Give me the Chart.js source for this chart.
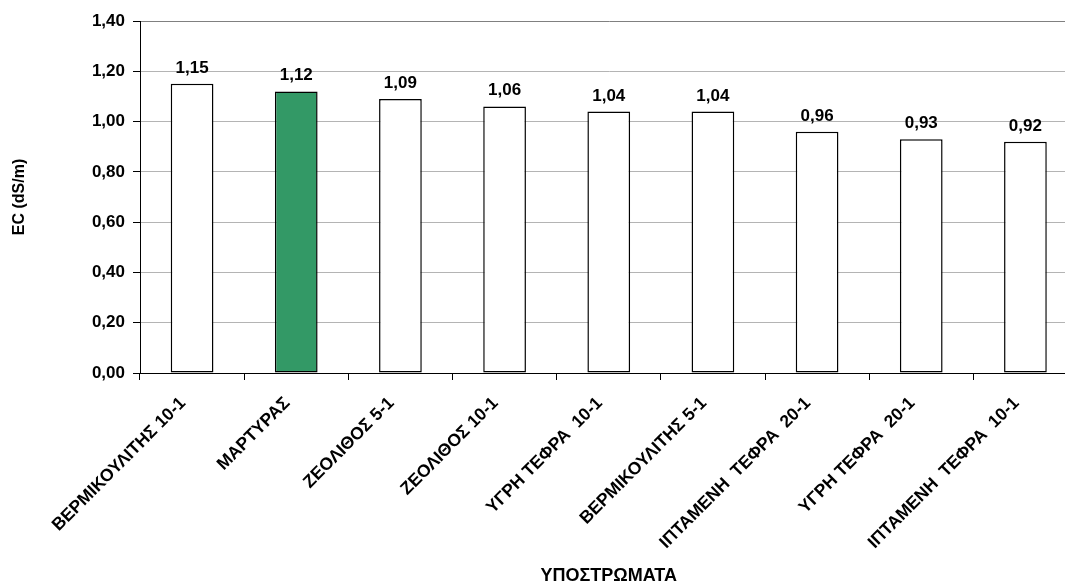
<!DOCTYPE html>
<html>
<head>
<meta charset="utf-8">
<script src="https://cdn.jsdelivr.net/npm/chart.js@4"></script>
<style>
  html, body { margin: 0; padding: 0; background: #fff; overflow: hidden; }
  #wrap { width: 1080px; height: 582px; }
</style>
</head>
<body>
<div id="wrap"><canvas id="myChart"></canvas></div>
<script>
// Substrates and their EC values
const substrates = [
    'ΒΕΡΜΙΚΟΥΛΙΤΗΣ 10-1',
    'ΜΑΡΤΥΡΑΣ',
    'ΖΕΟΛΙΘΟΣ 5-1',
    'ΖΕΟΛΙΘΟΣ 10-1',
    'ΥΓΡΗ ΤΕΦΡΑ  10-1',
    'ΒΕΡΜΙΚΟΥΛΙΤΗΣ 5-1',
    'ΙΠΤΑΜΕΝΗ  ΤΕΦΡΑ  20-1',
    'ΥΓΡΗ ΤΕΦΡΑ  20-1',
    'ΙΠΤΑΜΕΝΗ  ΤΕΦΡΑ  10-1'
];
const ecValues = [1.15, 1.12, 1.09, 1.06, 1.04, 1.04, 0.96, 0.93, 0.92];
const yTicks = [0, 0.2, 0.4, 0.6, 0.8, 1.0, 1.2, 1.4];

const FONT = "'Liberation Sans', Arial, sans-serif";
const fmt = v => v.toFixed(2).replace('.', ',');

// control bar is green, the rest are white
const barColors = substrates.map(s => s === 'ΜΑΡΤΥΡΑΣ' ? '#339966' : '#ffffff');

// writes the value above each bar
const valueLabels = {
    id: 'valueLabels',
    afterDatasetsDraw(chart) {
        const ctx = chart.ctx;
        const meta = chart.getDatasetMeta(0);
        ctx.save();
        ctx.font = 'bold 17px ' + FONT;
        ctx.fillStyle = '#000';
        ctx.textAlign = 'center';
        ctx.textBaseline = 'alphabetic';
        meta.data.forEach((bar, i) => {
            ctx.fillText(fmt(ecValues[i]), bar.x, bar.y - 11);
        });
        ctx.restore();
    }
};

function createChart() {
    const ctx = document.getElementById('myChart').getContext('2d');
    new Chart(ctx, {
        type: 'bar',
        data: {
            labels: substrates,
            datasets: [{
                data: ecValues,
                backgroundColor: barColors,
                borderColor: '#000',
                borderWidth: 1.5,
                borderSkipped: false,
                barPercentage: 0.41,
                categoryPercentage: 1.0
            }]
        },
        options: {
            responsive: true,
            maintainAspectRatio: false,
            animation: false,
            layout: { padding: { top: 21, right: 2.5, left: 0, bottom: 0 } },
            plugins: {
                legend: { display: false },
                tooltip: { enabled: false }
            },
            scales: {
                x: {
                    grid: {
                        display: true,
                        drawOnChartArea: false,
                        drawTicks: true,
                        tickLength: 7,
                        tickColor: '#000',
                        offset: true
                    },
                    border: { display: true, color: '#000', width: 1 },
                    ticks: {
                        color: '#000',
                        font: { family: FONT, size: 17.5, weight: 'bold' },
                        minRotation: 45,
                        maxRotation: 45,
                        autoSkip: false,
                        padding: 13,
                        labelOffset: -9
                    },
                    title: {
                        display: true,
                        text: 'ΥΠΟΣΤΡΩΜΑΤΑ',
                        color: '#000',
                        font: { family: FONT, size: 18, weight: 'bold' },
                        padding: { top: 0, bottom: -5 }
                    },
                    afterFit(scale) { scale.height = 209; }
                },
                y: {
                    min: 0,
                    max: 1.4,
                    afterBuildTicks(scale) {
                        scale.ticks = yTicks.map(v => ({ value: v }));
                    },
                    grid: {
                        color: c => (c.tick && c.tick.value === 1.4) ? '#808080' : '#b4b4b4',
                        lineWidth: 1,
                        drawTicks: true,
                        tickLength: 7,
                        tickColor: '#000',
                        tickBorderDash: []
                    },
                    border: { display: true, color: '#000', width: 1 },
                    ticks: {
                        color: '#000',
                        font: { family: FONT, size: 17, weight: 'bold' },
                        padding: 8,
                        callback: v => fmt(v)
                    },
                    title: {
                        display: true,
                        text: 'EC (dS/m)',
                        color: '#000',
                        font: { family: FONT, size: 16, weight: 'bold' },
                        padding: { top: 10, bottom: 0 }
                    },
                    afterFit(scale) { scale.width = 140; }
                }
            }
        },
        plugins: [valueLabels]
    });
}

window.onload = createChart;
</script>
</body>
</html>
